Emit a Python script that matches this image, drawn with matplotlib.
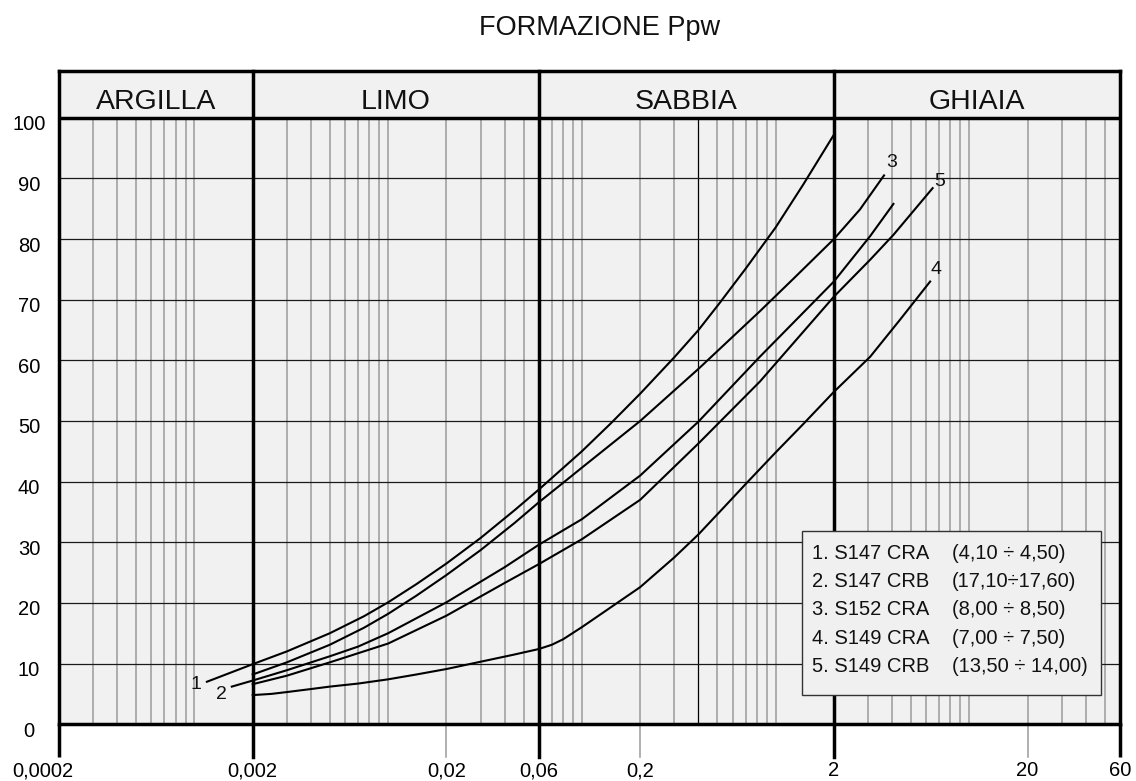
import matplotlib
matplotlib.use('Agg')
import matplotlib.pyplot as plt
from matplotlib.patches import Rectangle
from matplotlib.ticker import NullLocator
import numpy as np

plt.rcParams['font.family'] = ['Liberation Sans', 'DejaVu Sans']

# ---------------- data ----------------
title = 'FORMAZIONE Ppw'
zones = ['ARGILLA', 'LIMO', 'SABBIA', 'GHIAIA']
zone_bounds = [0.0002, 0.002, 0.06, 2, 60]
x_ticks = [0.0002, 0.002, 0.02, 0.06, 0.2, 2, 20, 60]
x_tick_labels = ['0,0002', '0,002', '0,02', '0,06', '0,2', '2', '20', '60']
y_ticks = [0, 10, 20, 30, 40, 50, 60, 70, 80, 90, 100]

# curve 1: S147 CRA
d1 = [0.00116, 0.002, 0.003, 0.005, 0.0075, 0.01, 0.014, 0.02, 0.03, 0.045,
      0.06, 0.1, 0.141, 0.2, 0.3, 0.4, 0.51, 0.7, 1.0, 1.39, 2.0]
p1 = [7.0, 9.9, 12.0, 15.0, 17.8, 20.1, 23.1, 26.5, 30.7, 35.3,
      38.7, 45.0, 49.6, 54.5, 60.5, 65.0, 69.3, 75.1, 81.9, 89.0, 97.2]
# curve 2: S147 CRB
d2 = [0.00156, 0.002, 0.003, 0.005, 0.007, 0.01, 0.02, 0.04, 0.06, 0.1, 0.2,
      0.4, 0.83, 2.0, 3.08, 4.06]
p2 = [6.2, 7.2, 8.9, 11.2, 12.8, 15.0, 20.1, 25.9, 29.6, 33.8, 41.0,
      49.9, 60.6, 73.0, 80.5, 85.8]
# curve 3: S152 CRA
d3 = [0.002, 0.003, 0.005, 0.0075, 0.01, 0.014, 0.02, 0.03, 0.045, 0.06,
      0.08, 0.1, 0.2, 0.4, 0.83, 1.24, 2.0, 2.73, 3.63]
p3 = [8.2, 10.2, 13.1, 15.9, 18.2, 21.2, 24.6, 28.7, 33.2, 36.6,
      39.8, 42.3, 50.0, 58.6, 68.1, 73.5, 80.0, 84.9, 90.5]
# curve 4: S149 CRA
d4 = [0.002, 0.0025, 0.003, 0.004, 0.005, 0.007, 0.01, 0.014, 0.02, 0.03,
      0.045, 0.06, 0.07, 0.08, 0.1, 0.14, 0.2, 0.3, 0.4, 0.55, 0.72, 1.0,
      1.4, 2.0, 3.08, 4.39, 6.28]
p4 = [4.8, 5.0, 5.3, 5.8, 6.2, 6.7, 7.4, 8.2, 9.1, 10.3,
      11.5, 12.4, 13.1, 14.0, 16.0, 19.2, 22.6, 27.5, 31.3, 36.0, 40.0, 44.8,
      49.6, 54.8, 60.6, 66.7, 73.0]
# curve 5: S149 CRB
d5 = [0.002, 0.003, 0.005, 0.01, 0.02, 0.04, 0.06, 0.1, 0.2, 0.4,
      0.83, 2.0, 3.08, 4.06, 6.47]
p5 = [6.6, 8.0, 10.2, 13.3, 17.9, 23.3, 26.4, 30.5, 37.0, 46.3,
      56.5, 70.5, 76.6, 80.7, 88.4]

curve_ids = ['1', '2', '3', '4', '5']
label_x = [0.00102, 0.00138, 3.96, 6.76, 7.07]
label_y = [6.6, 4.9, 92.7, 75.0, 89.5]

legend_names = ['1. S147 CRA', '2. S147 CRB', '3. S152 CRA', '4. S149 CRA', '5. S149 CRB']
legend_depths = ['(4,10 ÷ 4,50)', '(17,10÷17,60)', '(8,00 ÷ 8,50)',
                 '(7,00 ÷ 7,50)', '(13,50 ÷ 14,00)']

# ---------------- figure ----------------
W, H = 1136, 781
fig = plt.figure(figsize=(W / 100, H / 100), dpi=100)
fig.patch.set_facecolor('white')
ax_left, ax_right, ax_bottom, ax_top = 59, 1120, 724.2, 70.7
ax = fig.add_axes([ax_left / W, (H - ax_bottom) / H,
                   (ax_right - ax_left) / W, (ax_bottom - ax_top) / H])
YTOP = 107.77
ax.set_xscale('log')
ax.set_xlim(zone_bounds[0], zone_bounds[-1])
ax.set_ylim(0, YTOP)
ax.set_facecolor('#f1f1f1')
ax.set_xticks([])
ax.set_yticks([])
ax.xaxis.set_minor_locator(NullLocator())
ax.yaxis.set_minor_locator(NullLocator())
for s in ax.spines.values():
    s.set_linewidth(2.5)
    s.set_color('black')
    s.set_zorder(6)

THICK = 2.5
EXT = -5.4
# minor vertical grid (standard log-paper divisions)
majors = set(zone_bounds)
for k in range(-4, 2):
    for n in range(1, 10):
        v = round(n * 10.0 ** k, 8)
        if v <= zone_bounds[0] or v >= zone_bounds[-1] or v in majors:
            continue
        if abs(v - 0.4) < 1e-9:
            ax.plot([v, v], [0, 100], color='black', lw=0.9, zorder=1)
        elif v in (0.02, 0.2, 20.0):
            ax.plot([v, v], [EXT, 100], color='#9a9a9a', lw=1.1, zorder=1,
                    clip_on=False)
        else:
            ax.plot([v, v], [0, 100], color='#9a9a9a', lw=1.1, zorder=1)

# horizontal grid
for y in y_ticks[1:-1]:
    ax.plot([zone_bounds[0], zone_bounds[-1]], [y, y], color='#1a1a1a', lw=0.9, zorder=1.5)
ax.plot([zone_bounds[0], zone_bounds[-1]], [100, 100], color='black', lw=THICK, zorder=5)

# zone boundaries
for b in zone_bounds[1:-1]:
    ax.plot([b, b], [EXT, YTOP], color='black', lw=THICK, zorder=5, clip_on=False)
for b in (zone_bounds[0], zone_bounds[-1]):
    ax.plot([b, b], [EXT, 0], color='black', lw=THICK, zorder=5, clip_on=False,
            solid_capstyle='butt')

# zone names in header
for name, a, b in zip(zones, zone_bounds[:-1], zone_bounds[1:]):
    ax.text(np.sqrt(a * b), 101.45, name, ha='center', va='baseline',
            fontsize=20.5, color='#111111')

# curves
for d, p in zip([d1, d2, d3, d4, d5], [p1, p2, p3, p4, p5]):
    ax.plot(d, p, color='black', lw=1.5, zorder=3, solid_joinstyle='round')

for cid, lx, ly in zip(curve_ids, label_x, label_y):
    ax.text(lx, ly, cid, ha='center', va='center', fontsize=14, color='#111111', zorder=4)

# tick labels
for v, lab in zip(x_ticks, x_tick_labels):
    dx = -11.5 if v == x_ticks[0] else 0
    ax.annotate(lab, xy=(v, 0), xycoords=('data', 'axes fraction'),
                xytext=(dx, -33.5), textcoords='offset points',
                ha='center', va='center', fontsize=14.5, annotation_clip=False)
for v in y_ticks:
    ax.annotate(str(v), xy=(0, v), xycoords=('axes fraction', 'data'),
                xytext=(-21.6, -5.0), textcoords='offset points',
                ha='center', va='center', fontsize=14.5, annotation_clip=False)

# legend box
bx0, bx1 = (801.5 - ax_left) / (ax_right - ax_left), (1101 - ax_left) / (ax_right - ax_left)
by0, by1 = 4.78 / YTOP, 31.9 / YTOP
ax.add_patch(Rectangle((bx0, by0), bx1 - bx0, by1 - by0, transform=ax.transAxes,
                       facecolor='#f0f0f0', edgecolor='#333333', lw=1.0, zorder=7))
row0, row_step = 28.1, 4.63
c1 = (812 - ax_left) / (ax_right - ax_left)
c2 = (952 - ax_left) / (ax_right - ax_left)
for i, (nm, dp) in enumerate(zip(legend_names, legend_depths)):
    yy = (row0 - i * row_step) / YTOP
    ax.text(c1, yy, nm, transform=ax.transAxes, ha='left', va='center',
            fontsize=14.5, zorder=8, color='#111111')
    ax.text(c2, yy, dp, transform=ax.transAxes, ha='left', va='center',
            fontsize=14.5, zorder=8, color='#111111')

fig.text(479 / W, 1 - 35 / H, title, ha='left', va='baseline', fontsize=19.5,
         color='#111111')

fig.savefig('out.png', dpi=100, facecolor='white')
